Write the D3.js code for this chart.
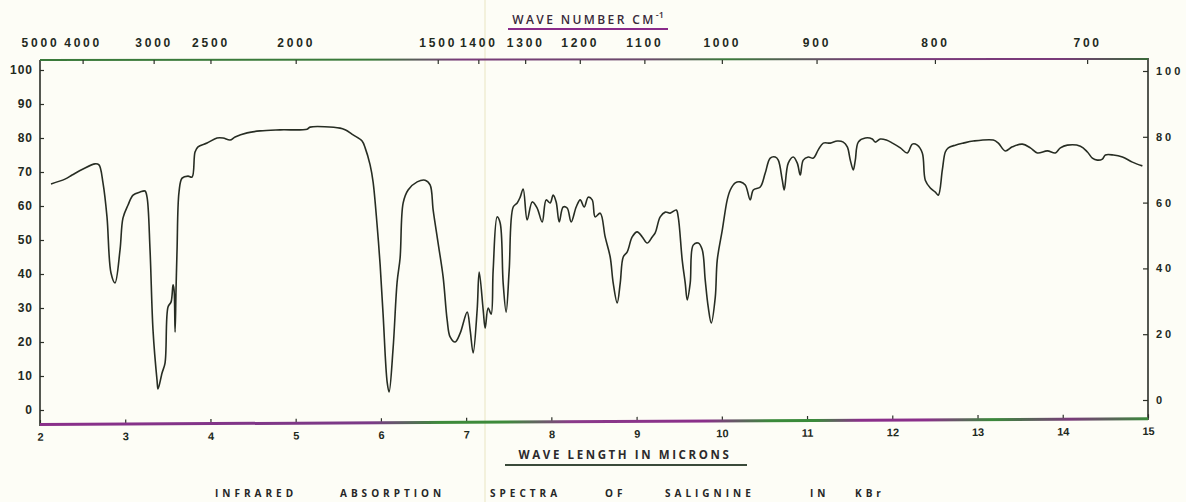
<!DOCTYPE html>
<html lang="en">
<head>
<meta charset="UTF-8">
<title>IR spectrum - salignine in KBr</title>
<script src="https://cdn.jsdelivr.net/npm/d3@7"></script>
<style>
  body { margin: 0; background: #fdfdf6; }
  svg { display: block; font-family: "Open Sans", "DejaVu Sans", sans-serif; }
  .tick line { stroke: #2c3028; stroke-width: 1.2; }
  .tick text { fill: #1f2a1e; font-weight: 600; }
</style>
</head>
<body>
<svg width="1186" height="502"></svg>
<script>
// wavelength in microns
var wavelength = [2.129,2.293,2.376,2.505,2.646,2.692,2.739,2.786,2.833,2.880,2.939,2.974,3.033,3.092,3.174,3.232,3.256,3.291,3.326,3.373,3.385,3.432,3.467,3.502,3.538,3.561,3.573,3.585,3.596,3.608,
  3.631,3.667,3.737,3.784,3.819,3.854,3.960,4.077,4.148,4.230,4.289,4.430,4.582,4.817,5.134,5.169,5.521,5.580,5.674,5.779,5.815,5.873,5.908,5.955,5.991,6.026,6.073,6.096,6.143,6.190,
  6.225,6.261,6.319,6.425,6.519,6.577,6.613,6.671,6.730,6.777,6.812,6.871,6.930,7.012,7.047,7.082,7.129,7.153,7.200,7.223,7.258,7.293,7.317,7.364,7.399,7.434,7.469,7.505,7.552,7.599,
  7.634,7.669,7.716,7.775,7.833,7.892,7.939,7.986,8.021,8.056,8.092,8.138,8.185,8.232,8.291,8.338,8.385,8.432,8.479,8.514,8.573,8.631,8.690,8.725,8.772,8.808,8.843,8.890,8.948,9.007,
  9.066,9.124,9.183,9.218,9.277,9.336,9.394,9.465,9.488,9.535,9.570,9.594,9.629,9.664,9.723,9.770,9.805,9.840,9.876,9.923,9.946,10.005,10.063,10.099,10.157,10.216,10.275,10.333,10.369,10.451,
  10.509,10.568,10.627,10.662,10.709,10.732,10.779,10.838,10.885,10.920,10.955,11.014,11.073,11.131,11.190,11.272,11.354,11.425,11.472,11.507,11.542,11.566,11.601,11.683,11.765,11.800,11.859,11.930,12.002,12.094,
  12.176,12.235,12.293,12.352,12.387,12.446,12.505,12.540,12.587,12.622,12.657,12.739,12.833,12.950,13.185,13.244,13.326,13.408,13.526,13.620,13.702,13.819,13.913,13.972,14.054,14.207,14.289,14.347,14.406,14.465,
  14.500,14.594,14.700,14.817,14.934];

// percent transmittance at those wavelengths
var transmittance = [66.5,67.9,69.1,70.9,72.4,72.1,66.8,56.8,40.3,37.4,47.1,56.5,60.3,63.2,64.1,64.4,62.6,47.1,23.5,8.8,6.2,10.9,13.8,30.3,31.8,36.8,35.3,22.9,35.3,47.1,
  64.1,68.2,68.8,68.5,75.9,77.4,78.5,80.0,80.0,79.4,80.3,81.5,82.1,82.4,82.6,83.2,82.9,82.4,80.9,79.1,77.1,72.1,67.1,54.4,42.6,27.9,8.2,5.3,18.2,37.6,
  44.7,60.9,64.7,67.1,67.6,66.2,58.8,49.1,39.1,26.5,21.5,20.0,22.6,28.8,23.5,16.8,29.4,40.6,29.4,24.1,30.0,28.2,41.2,56.8,55.0,37.4,28.8,41.2,59.7,60.9,
  62.6,65.0,55.9,61.2,59.4,55.3,61.8,60.9,63.2,61.2,55.3,59.7,59.4,55.3,59.7,61.8,59.7,62.6,61.8,56.8,57.9,50.9,45.0,37.4,31.5,37.4,45.0,46.5,50.9,52.4,
  50.9,49.1,50.9,52.1,56.8,58.2,57.9,58.8,56.8,44.1,37.4,32.4,37.4,48.5,49.1,47.1,38.2,30.3,25.6,33.2,44.1,52.9,61.8,64.7,66.8,67.1,66.2,61.8,64.7,65.6,
  69.7,74.1,74.4,73.5,67.6,64.7,72.6,74.4,72.6,69.1,73.5,74.4,74.1,76.5,78.5,78.5,79.1,78.8,77.4,73.5,70.6,73.5,78.8,80.0,79.7,78.8,79.7,79.4,78.5,77.1,
  75.6,78.2,77.9,75.6,67.6,65.3,64.1,63.2,70.6,75.9,77.1,77.9,78.5,79.1,79.4,78.5,76.2,77.4,78.2,77.1,75.6,76.2,75.6,77.1,77.9,77.6,75.9,74.1,73.5,73.8,
  75.0,75.0,74.4,72.9,71.8];

var micronTicks = [2,3,4,5,6,7,8,9,10,11,12,13,14,15];
var wavenumberTicks = [5000,4000,3000,2500,2000,1500,1400,1300,1200,1100,1000,900,800,700];
var leftTicks = [0,10,20,30,40,50,60,70,80,90,100];
var rightTicks = [0,20,40,60,80,100];
var captionWords = ["INFRARED","ABSORPTION","SPECTRA","OF","SALIGNINE","IN","KBr"];

var svg = d3.select('svg');
// frame edges (window.top is taken, so prefixed names)
var fLeft = 40, fRight = 1148, fTop = 60, fBottom = 424;

var x = d3.scaleLinear().domain([2, 15]).range([fLeft, fRight]);
var y = d3.scaleLinear().domain([0, 100]).range([410, 70]);
var yRight = d3.scaleLinear().domain([0, 100]).range([400, 71]);

// scan colours on the printed axis lines
var defs = svg.append('defs');
function stripe(id, stops) {
    var g = defs.append('linearGradient').attr('id', id)
        .attr('gradientUnits', 'userSpaceOnUse')
        .attr('x1', fLeft).attr('x2', fRight).attr('y1', 0).attr('y2', 0);
    stops.forEach(function (s) {
        g.append('stop').attr('offset', s[0]).attr('stop-color', s[1]);
    });
}
stripe('botLine', [[0,'#8a2f8a'],[0.3,'#7a3a86'],[0.36,'#3d8a3a'],[0.42,'#3d8a3a'],[0.48,'#8a3a8a'],[0.6,'#8a2f8a'],[0.66,'#3a8a3a'],[0.7,'#3a8a3a'],[0.74,'#8a2f8a'],[0.8,'#8a2f8a'],[0.86,'#3a8a3a'],[0.93,'#7a3a7a'],[1,'#3a8a3a']]);
stripe('topLine', [[0,'#3a7a3a'],[0.3,'#3a7a3a'],[0.38,'#7a3a7a'],[0.55,'#6a4a6a'],[0.62,'#3a7a3a'],[0.75,'#7a3a7a'],[0.92,'#7a3a7a'],[1,'#3a6a3a']]);

// faint paper fold
svg.append('line').attr('x1', 485).attr('x2', 485).attr('y1', 0).attr('y2', 502)
    .attr('stroke', '#f3f1dc').attr('stroke-width', 2);

// frame
svg.append('line').attr('x1', fLeft).attr('x2', fLeft).attr('y1', fTop).attr('y2', fBottom + 2)
    .attr('stroke', '#2a2e28').attr('stroke-width', 1.6);
svg.append('line').attr('x1', fRight).attr('x2', fRight).attr('y1', fTop - 2).attr('y2', fBottom - 4)
    .attr('stroke', '#2a2e28').attr('stroke-width', 1.6);
svg.append('line').attr('x1', fLeft).attr('x2', fRight).attr('y1', fTop).attr('y2', fTop - 1)
    .attr('stroke', 'url(#topLine)').attr('stroke-width', 2);

// bottom axis, slightly skewed like the scan
var bot = svg.append('g').attr('transform', 'translate(0,' + fBottom + ') rotate(-0.3,' + fLeft + ',0)');
bot.call(d3.axisBottom(x).tickValues(micronTicks).tickSizeInner(-4).tickSizeOuter(0).tickPadding(9));
bot.select('.domain').remove();
bot.selectAll('.tick text').attr('font-size', 11).style('font-weight', 700);
bot.append('line').attr('x1', fLeft).attr('x2', fRight).attr('y1', 0.5).attr('y2', 0.5)
    .attr('stroke', 'url(#botLine)').attr('stroke-width', 3);

// top axis in wave numbers
var topAxis = svg.append('g').attr('transform', 'translate(0,' + fTop + ')');
topAxis.call(d3.axisTop(x)
    .tickValues(wavenumberTicks.map(function (w) { return 1e4 / w; }))
    .tickFormat(function (v) { return Math.round(1e4 / v); })
    .tickSizeInner(-4).tickSizeOuter(0).tickPadding(13));
topAxis.select('.domain').remove();
topAxis.selectAll('.tick line').filter(function (d, i) { return i === 0; }).remove();
topAxis.selectAll('.tick text').attr('font-size', 12).attr('letter-spacing', 2.8);

// left % axis
var la = svg.append('g').attr('transform', 'translate(' + fLeft + ',0)');
la.call(d3.axisLeft(y).tickValues(leftTicks).tickSizeInner(-4).tickSizeOuter(0).tickPadding(7));
la.select('.domain').remove();
la.selectAll('.tick text').attr('font-size', 12).attr('letter-spacing', 1);

// right % axis
var ra = svg.append('g').attr('transform', 'translate(' + fRight + ',0)');
ra.call(d3.axisRight(yRight).tickValues(rightTicks).tickSizeInner(-5).tickSizeOuter(0).tickPadding(8));
ra.select('.domain').remove();
ra.selectAll('.tick text').attr('font-size', 11).attr('letter-spacing', 3);

// spectrum trace
var pts = wavelength.map(function (w, i) { return [w, transmittance[i]]; });
var trace = d3.line()
    .x(function (d) { return x(d[0]); })
    .y(function (d) { return y(d[1]); })
    .curve(d3.curveCatmullRom.alpha(0.5));
svg.append('path').attr('d', trace(pts)).attr('fill', 'none')
    .attr('stroke', '#272d23').attr('stroke-width', 1.6).attr('stroke-linejoin', 'round');

// titles
svg.append('text').attr('x', 588).attr('y', 24).attr('text-anchor', 'middle')
    .attr('font-size', 12).attr('font-weight', 600).attr('letter-spacing', 2.4).attr('fill', '#3a2a3a')
    .text('WAVE NUMBER CM').append('tspan').attr('dy', -6).attr('font-size', 9).attr('letter-spacing', 0).text('-1');
svg.append('line').attr('x1', 508).attr('x2', 668).attr('y1', 29).attr('y2', 29)
    .attr('stroke', '#8a2a8a').attr('stroke-width', 2);

svg.append('text').attr('x', 625).attr('y', 459).attr('text-anchor', 'middle')
    .attr('font-size', 11.5).attr('font-weight', 'bold').attr('letter-spacing', 2.6).attr('fill', '#2c2a2c')
    .text('WAVE LENGTH  IN MICRONS');
svg.append('line').attr('x1', 505).attr('x2', 747).attr('y1', 465).attr('y2', 465)
    .attr('stroke', '#3a4a3a').attr('stroke-width', 2);

var wordX = [215, 340, 490, 605, 665, 810, 855];
svg.selectAll('text.caption').data(captionWords).enter().append('text')
    .attr('class', 'caption')
    .attr('x', function (d, i) { return wordX[i]; }).attr('y', 497)
    .attr('font-size', 10).attr('font-weight', 'bold').attr('letter-spacing', 4).attr('fill', '#262626')
    .text(function (d) { return d; });
</script>
</body>
</html>
